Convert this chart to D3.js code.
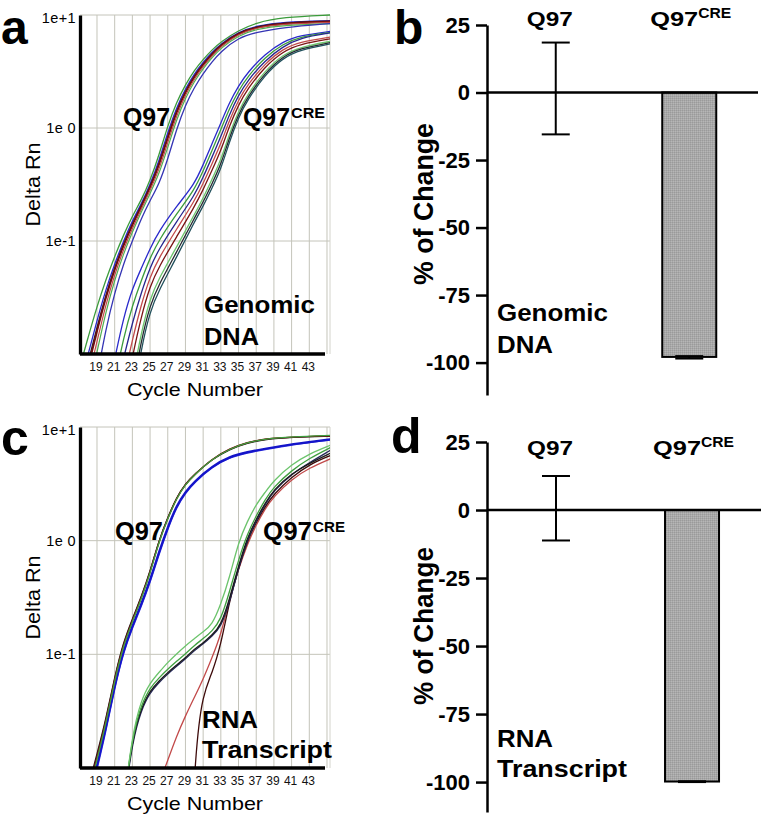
<!DOCTYPE html>
<html>
<head>
<meta charset="utf-8">
<script src="https://cdn.jsdelivr.net/npm/d3@7"></script>
<style>
  body { margin: 0; background: #fff; }
  svg { display: block; }
  text { font-family: "Liberation Sans", Arial, sans-serif; fill: #000; }
</style>
</head>
<body>
<svg id="fig" width="762" height="818"></svg>
<script>
// ---- amplification plots: shared axes ----
const gridCycles = [19, 21, 23, 25, 27, 29, 31, 33, 35, 37, 39, 41, 43, 45];
const cycleTicks = [19, 21, 23, 25, 27, 29, 31, 33, 35, 37, 39, 41, 43];
const rnTicks = [10, 1, 0.1];
const rnTickLabels = ['1e+1', '1e 0', '1e-1'];

// panel a, Q97 curves (Delta Rn per cycle)
const dnaQ97Cycles = [17, 18, 19, 20, 21, 22, 23, 24, 25, 26, 27, 28, 29, 30, 31, 32, 33, 35, 37, 40, 45.4];
const dnaQ97Rn = [
  [0.0074, 0.0141, 0.0263, 0.0455, 0.0731, 0.113, 0.167, 0.229, 0.341, 0.571, 1.05, 1.70, 2.42, 3.24, 4.05, 4.91, 5.80, 7.31, 8.55, 9.57, 10.0],
  [0.005, 0.010, 0.0198, 0.0372, 0.063, 0.100, 0.151, 0.212, 0.315, 0.508, 0.914, 1.52, 2.23, 3.02, 3.83, 4.68, 5.57, 7.10, 8.0, 8.7, 8.9],
  [0.0042, 0.0085, 0.0172, 0.0335, 0.058, 0.094, 0.142, 0.205, 0.30, 0.475, 0.84, 1.43, 2.12, 2.9, 3.7, 4.55, 5.45, 7.0, 7.9, 8.55, 8.8],
  [0.0037, 0.0077, 0.016, 0.032, 0.0565, 0.092, 0.139, 0.201, 0.296, 0.465, 0.824, 1.40, 2.09, 2.86, 3.66, 4.51, 5.41, 6.95, 7.8, 8.5, 8.75],
  [null, 0.006, 0.0129, 0.0275, 0.0506, 0.0843, 0.129, 0.190, 0.279, 0.425, 0.743, 1.29, 1.97, 2.72, 3.51, 4.35, 5.25, 6.8, 7.7, 8.3, 8.6],
  [null, 0.0046, 0.0104, 0.0237, 0.0453, 0.0773, 0.120, 0.180, 0.263, 0.389, 0.671, 1.19, 1.85, 2.58, 3.37, 4.19, 5.09, 6.6, 7.5, 8.1, 8.4],
  [null, null, 0.0063, 0.0166, 0.035, 0.063, 0.100, 0.158, 0.229, 0.316, 0.527, 0.98, 1.60, 2.29, 3.04, 3.85, 4.74, 6.31, 7.03, 7.76, 8.41]
];

// panel a, Q97CRE curves
const dnaCreCycles = [21, 22, 23, 24, 25, 26, 28, 30, 31, 32, 33, 34, 35, 36, 38, 40, 42, 45.4];
const dnaCreRn = [
  [0.009, 0.021, 0.038, 0.057, 0.086, 0.122, 0.204, 0.316, 0.472, 0.724, 1.11, 1.70, 2.36, 3.09, 4.51, 5.82, 6.61, 7.16],
  [0.0057, 0.014, 0.0268, 0.0446, 0.0711, 0.1016, 0.1746, 0.282, 0.416, 0.632, 0.964, 1.51, 2.14, 2.84, 4.24, 5.53, 6.45, 7.0],
  [null, 0.0091, 0.0189, 0.0349, 0.0586, 0.0849, 0.149, 0.251, 0.366, 0.552, 0.836, 1.34, 1.95, 2.61, 3.97, 5.26, 6.3, 6.95],
  [null, 0.006, 0.0133, 0.0274, 0.0484, 0.071, 0.1276, 0.224, 0.323, 0.483, 0.724, 1.19, 1.77, 2.40, 3.73, 5.01, 5.79, 6.38],
  [null, 0.0039, 0.0094, 0.0215, 0.040, 0.0592, 0.109, 0.200, 0.284, 0.422, 0.628, 1.06, 1.60, 2.21, 3.50, 4.76, 5.55, 6.15],
  [null, null, 0.0059, 0.0155, 0.031, 0.0466, 0.0885, 0.171, 0.240, 0.352, 0.520, 0.904, 1.41, 1.98, 3.22, 4.46, 5.22, 5.85],
  [null, null, 0.0047, 0.0132, 0.0272, 0.0413, 0.0796, 0.159, 0.221, 0.321, 0.472, 0.836, 1.32, 1.87, 3.08, 4.31, 5.08, 5.7],
  [null, null, 0.0037, 0.0112, 0.024, 0.0366, 0.0718, 0.147, 0.203, 0.294, 0.43, 0.77, 1.24, 1.77, 2.96, 4.17, 4.93, 5.56]
];

// panel c, Q97 curves
const rnaQ97Cycles = [18, 19, 20, 21, 22, 23, 24, 25, 26, 27, 28, 29, 30, 32, 34, 36, 38, 41, 45.4];
const rnaQ97Rn = [
  [0.0046, 0.0098, 0.021, 0.051, 0.105, 0.171, 0.265, 0.43, 0.76, 1.27, 1.98, 2.63, 3.25, 4.45, 5.42, 5.95, 6.36, 7.0, 7.7],
  [0.005, 0.0105, 0.0224, 0.0537, 0.11, 0.178, 0.275, 0.447, 0.794, 1.32, 2.04, 2.69, 3.31, 4.52, 5.5, 6.03, 6.44, 7.08, 7.8],
  [0.006, 0.0122, 0.025, 0.06, 0.123, 0.197, 0.31, 0.518, 0.99, 1.57, 2.38, 3.14, 3.79, 5.23, 6.44, 7.31, 7.86, 8.15, 8.4],
  [0.0068, 0.0133, 0.0268, 0.064, 0.13, 0.205, 0.322, 0.535, 1.01, 1.6, 2.42, 3.18, 3.82, 5.2, 6.38, 7.22, 7.8, 8.1, 8.3],
  [0.0063, 0.0126, 0.0257, 0.0617, 0.126, 0.200, 0.316, 0.525, 1.0, 1.585, 2.40, 3.16, 3.80, 5.25, 6.46, 7.33, 7.89, 8.17, 8.34],
  [0.0058, 0.0118, 0.0245, 0.059, 0.121, 0.193, 0.306, 0.51, 0.98, 1.56, 2.37, 3.13, 3.78, 5.22, 6.43, 7.3, 7.87, 8.2, 8.45]
];

// panel c, Q97CRE curves
const rnaCreCycles = [22, 23, 24, 25, 26, 27, 28, 29, 30, 31, 32, 33, 34, 35, 36, 37, 38, 39, 41, 43, 45.4];
const rnaCreRn = [
  [null, null, null, null, 0.0072, 0.0117, 0.0191, 0.0288, 0.0417, 0.0603, 0.0933, 0.148, 0.309, 0.562, 0.933, 1.38, 1.91, 2.45, 3.47, 4.37, 5.25],
  [null, null, null, null, null, null, null, 0.0001, 0.0141, 0.0457, 0.0676, 0.12, 0.302, 0.575, 1.0, 1.45, 2.0, 2.57, 3.63, 4.68, 5.62],
  [0.0045, 0.0172, 0.0325, 0.0462, 0.0565, 0.0672, 0.0785, 0.091, 0.108, 0.123, 0.145, 0.172, 0.29, 0.57, 1.02, 1.5, 2.08, 2.76, 3.85, 4.85, 6.25],
  [0.0047, 0.0182, 0.0339, 0.0479, 0.0582, 0.0692, 0.0804, 0.0933, 0.111, 0.126, 0.148, 0.178, 0.309, 0.603, 1.07, 1.55, 2.14, 2.82, 3.89, 4.79, 5.89],
  [0.0048, 0.019, 0.036, 0.051, 0.062, 0.074, 0.087, 0.101, 0.12, 0.137, 0.16, 0.2, 0.36, 0.68, 1.15, 1.66, 2.3, 2.98, 4.15, 5.3, 6.6],
  [0.0047, 0.020, 0.0398, 0.0562, 0.0692, 0.0851, 0.101, 0.119, 0.137, 0.158, 0.180, 0.275, 0.479, 0.977, 1.48, 2.09, 2.66, 3.39, 4.68, 5.82, 6.92]
];

// ---- bar charts ----
const barCategories = ['Q97', 'Q97CRE'];
const pctTicks = [25, 0, -25, -50, -75, -100];
const dnaPctMean = [0, -97.9];
const dnaPctErrUp = [18.5, 0.3];
const dnaPctErrDown = [15.5, 0.6];
const rnaPctMean = [0, -99.8];
const rnaPctErrUp = [12.5, 0.1];
const rnaPctErrDown = [11.2, 0.2];

// line colours (style only)
const dnaQ97Colors = ['#3b9b3b', '#2a2acb', '#1e1e2a', '#6e0d0d', '#c24a4a', '#4fae4f', '#3434b4'];
const dnaQ97Widths = [1.3, 1.3, 1.3, 1.9, 1.2, 1.2, 1.3];
const dnaCreColors = ['#2a2acb', '#3b9b3b', '#26268f', '#c24a4a', '#7a1414', '#6cc46c', '#262a30', '#21505c'];
const rnaQ97Colors = ['#3030e0', '#1414c8', '#c24a4a', '#1b1b1b', '#6e0d0d', '#3f9f3f'];
const rnaQ97Widths = [1.6, 2.2, 1.2, 1.2, 1.4, 1.3];
const rnaCreColors = ['#c24a4a', '#3d0a0a', '#26285a', '#1b1b1b', '#3f9f3f', '#6cc46c'];

const svg = d3.select('#fig');
const defs = svg.append('defs');
const pat = defs.append('pattern').attr('id', 'stipple')
  .attr('width', 2).attr('height', 2).attr('patternUnits', 'userSpaceOnUse');
pat.append('rect').attr('width', 2).attr('height', 2).attr('fill', '#a8a8a8');
pat.append('rect').attr('width', 1).attr('height', 1).attr('fill', '#9a9a9a');
pat.append('rect').attr('x', 1).attr('y', 1).attr('width', 1).attr('height', 1).attr('fill', '#b6b6b6');

function label(g, txt, x, y, size, width, weight) {
  const t = g.append('text')
    .attr('x', x).attr('y', y)
    .style('font-size', size + 'px')
    .style('font-weight', weight || 'bold')
    .text(txt);
  if (width) t.attr('textLength', width).attr('lengthAdjust', 'spacingAndGlyphs');
  return t;
}

function drawAmp(id, box, groups) {
  const x = d3.scaleLinear().domain([17.08, 45.34]).range([box.left, box.right]);
  const y = d3.scaleLog().domain([0.01, 10]).range([box.bottom, box.top]);
  const g = svg.append('g');

  defs.append('clipPath').attr('id', 'clip-' + id)
    .append('rect').attr('x', box.left).attr('y', box.top - 3)
    .attr('width', box.right - box.left).attr('height', box.bottom - box.top + 3);

  g.selectAll('line.vgrid').data(gridCycles).enter().append('line')
    .attr('x1', d => x(d)).attr('x2', d => x(d))
    .attr('y1', box.top).attr('y2', box.bottom)
    .attr('stroke', '#c4c4ba').attr('stroke-width', 1);
  g.selectAll('line.hgrid').data(rnTicks).enter().append('line')
    .attr('x1', box.left).attr('x2', box.right)
    .attr('y1', d => y(d)).attr('y2', d => y(d))
    .attr('stroke', '#c4c4ba').attr('stroke-width', 1);
  g.append('line')
    .attr('x1', box.right).attr('x2', box.right)
    .attr('y1', box.top).attr('y2', box.bottom)
    .attr('stroke', '#d4d4cc');

  const line = d3.line()
    .defined(d => d[1] != null)
    .x(d => x(d[0]))
    .y(d => y(d[1]))
    .curve(d3.curveBasis);

  const curves = g.append('g').attr('clip-path', `url(#clip-${id})`);
  groups.forEach((grp) => {
    grp.series.forEach((vals, i) => {
      curves.append('path')
        .attr('d', line(vals.map((v, k) => [grp.cycles[k], v])))
        .attr('fill', 'none')
        .attr('stroke', grp.colors[i])
        .attr('stroke-width', grp.widths ? grp.widths[i] : 1.3);
    });
  });

  const yAxis = g.append('g')
    .attr('transform', `translate(${box.left},0)`)
    .call(d3.axisLeft(y).tickValues(rnTicks).tickFormat((d, i) => rnTickLabels[i])
      .tickSize(0).tickPadding(4));
  yAxis.attr('font-family', null).attr('font-size', null);
  yAxis.select('.domain').attr('stroke-width', 3.3);
  yAxis.selectAll('text').style('font-size', '14.5px').style('letter-spacing', '0.4px');
  yAxis.selectAll('.tick text').filter(d => d === 10).attr('dy', '0.55em');

  const xAxis = g.append('g')
    .attr('transform', `translate(0,${box.bottom})`)
    .call(d3.axisBottom(x).tickValues(cycleTicks).tickSize(0).tickPadding(8.5));
  xAxis.attr('font-family', null).attr('font-size', null);
  xAxis.select('.domain').attr('stroke-width', 3.3).attr('d', `M${box.left},0H${box.right - 5}`);
  xAxis.selectAll('text').style('font-size', '12px').style('fill', '#111').attr('dx', -1.5);

  label(g, 'Cycle Number', (box.left + box.right) / 2 - 10, box.bottom + 42, 19, 136, 'normal')
    .attr('text-anchor', 'middle');
  label(g, 'Delta Rn', 0, 0, 20, 84, 'normal')
    .attr('text-anchor', 'middle')
    .attr('transform', `translate(40,${(box.top + box.bottom) / 2}) rotate(-90)`);
  return g;
}

function drawBars(box, mean, up, down) {
  const x = d3.scalePoint().domain(barCategories).range([box.left, box.right]).padding(box.pad);
  const y = d3.scaleLinear().domain(box.domain).range([box.bottom, box.top]);
  const g = svg.append('g');

  g.selectAll('rect.bar').data(barCategories).enter().append('rect')
    .attr('x', d => x(d) - 27)
    .attr('width', 54)
    .attr('y', (d, i) => y(Math.max(0, mean[i])))
    .attr('height', (d, i) => Math.abs(y(mean[i]) - y(0)))
    .attr('fill', 'url(#stipple)')
    .attr('stroke', '#000').attr('stroke-width', 2);

  g.append('line')
    .attr('x1', box.left).attr('x2', box.right)
    .attr('y1', y(0)).attr('y2', y(0))
    .attr('stroke', '#000').attr('stroke-width', 2.5);

  const err = g.selectAll('g.err').data(barCategories).enter().append('g');
  err.append('line')
    .attr('x1', d => x(d)).attr('x2', d => x(d))
    .attr('y1', (d, i) => y(mean[i] + up[i])).attr('y2', (d, i) => y(mean[i] - down[i]))
    .attr('stroke', '#000').attr('stroke-width', 2);
  err.append('line')
    .attr('x1', d => x(d) - 14).attr('x2', d => x(d) + 14)
    .attr('y1', (d, i) => y(mean[i] + up[i])).attr('y2', (d, i) => y(mean[i] + up[i]))
    .attr('stroke', '#000').attr('stroke-width', 2);
  err.append('line')
    .attr('x1', d => x(d) - 14).attr('x2', d => x(d) + 14)
    .attr('y1', (d, i) => y(mean[i] - down[i])).attr('y2', (d, i) => y(mean[i] - down[i]))
    .attr('stroke', '#000').attr('stroke-width', 2);

  const ax = g.append('g')
    .attr('transform', `translate(${box.left},0)`)
    .call(d3.axisLeft(y).tickValues(pctTicks).tickFormat(d => String(d))
      .tickSize(11).tickSizeOuter(0).tickPadding(6));
  ax.attr('font-family', null).attr('font-size', null);
  ax.select('.domain').attr('stroke-width', 2.5);
  ax.selectAll('.tick line').attr('stroke-width', 2.5);
  ax.selectAll('text').style('font-size', '22px').style('font-weight', 'bold');

  label(g, '% of Change', 0, 0, 27, box.titleLen)
    .attr('text-anchor', 'middle')
    .attr('transform', `translate(433,${box.titleY}) rotate(-90)`);

  label(g, 'Q97', x('Q97') - 29, box.top + box.catDy, 21, 46);
  label(g, 'Q97', x('Q97CRE') - 39, box.top + box.catDy, 21, 48);
  label(g, 'CRE', x('Q97CRE') + 9, box.top + box.catDy - 8, 14, 33);
  return g;
}

// panel a
const ga = drawAmp('a', { left: 80, right: 330, top: 15, bottom: 354 }, [
  { cycles: dnaQ97Cycles, series: dnaQ97Rn, colors: dnaQ97Colors, widths: dnaQ97Widths },
  { cycles: dnaCreCycles, series: dnaCreRn, colors: dnaCreColors }
]);
label(ga, 'Q97', 123, 126, 25.5, 47);
label(ga, 'Q97', 243, 126, 25.5, 47);
label(ga, 'CRE', 291, 118, 14, 34);
label(ga, 'Genomic', 204, 313, 23.5, 111);
label(ga, 'DNA', 204, 345, 23.5, 55);
label(ga, 'a', 1, 44, 48);

// panel c
const gc = drawAmp('c', { left: 80, right: 330, top: 427, bottom: 768 }, [
  { cycles: rnaQ97Cycles, series: rnaQ97Rn, colors: rnaQ97Colors, widths: rnaQ97Widths },
  { cycles: rnaCreCycles, series: rnaCreRn, colors: rnaCreColors }
]);
label(gc, 'Q97', 115, 540, 25.5, 48);
label(gc, 'Q97', 263, 540, 25.5, 49);
label(gc, 'CRE', 313, 532, 14, 32);
label(gc, 'RNA', 202, 728, 24, 56);
label(gc, 'Transcript', 202, 758, 24, 130);
label(gc, 'c', 1, 455, 50);

// panel b
const gb = drawBars({ left: 487, right: 758, top: 25, bottom: 395, domain: [-112, 25], pad: 0.515,
  titleY: 204, titleLen: 162, catDy: 1 }, dnaPctMean, dnaPctErrUp, dnaPctErrDown);
label(gb, 'Genomic', 497, 321, 23.5, 111);
label(gb, 'DNA', 497, 353, 23.5, 56);
label(gb, 'b', 394, 44, 48);

// panel d
const gd = drawBars({ left: 487, right: 761, top: 442, bottom: 812, domain: [-111, 25], pad: 0.507,
  titleY: 626, titleLen: 158, catDy: 13 }, rnaPctMean, rnaPctErrUp, rnaPctErrDown);
label(gd, 'RNA', 497, 747, 24, 56);
label(gd, 'Transcript', 497, 777, 24, 130);
label(gd, 'd', 391, 453, 50);
</script>
</body>
</html>
